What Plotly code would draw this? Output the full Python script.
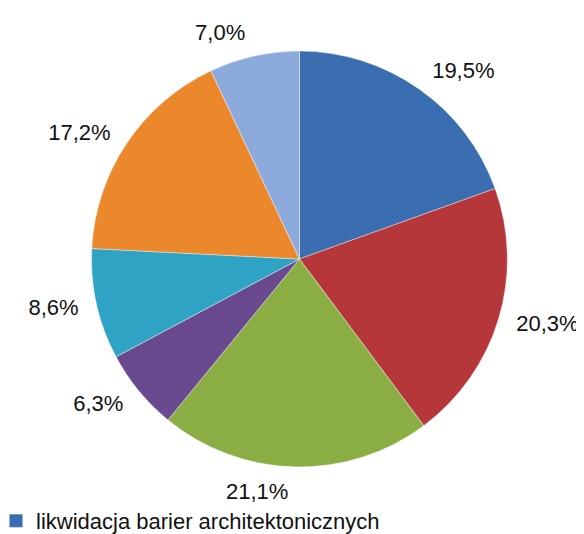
import plotly.graph_objects as go

categories = ["likwidacja barier architektonicznych", "kategoria 2", "kategoria 3",
              "kategoria 4", "kategoria 5", "kategoria 6", "kategoria 7"]
values = [19.5, 20.3, 21.1, 6.3, 8.6, 17.2, 7.0]
colors = ["#3A6EB0", "#B5373A", "#8AAE43", "#6A4A8E", "#2FA3C4", "#EC882C", "#8DAADC"]
legend_label = categories[0]

fig = go.Figure()
# visible pie
fig.add_trace(go.Pie(
    labels=categories, values=values, sort=False, direction="clockwise", rotation=0,
    marker=dict(colors=colors, line=dict(color="rgba(255,255,255,0.4)", width=1)),
    textinfo="none", hoverinfo="skip",
    showlegend=False, domain=dict(x=[0.14583, 0.87153], y=[0.13858, 0.92135]),
))
# transparent, slightly larger pie that carries the outside labels
fig.add_trace(go.Pie(
    labels=categories, values=values, sort=False, direction="clockwise", rotation=0,
    marker=dict(colors=["rgba(0,0,0,0)"] * len(values), line=dict(width=0)),
    texttemplate="%{value:.1f}%", textposition="outside",
    textfont=dict(size=22, color="#111111"), hoverinfo="skip",
    showlegend=False, domain=dict(x=[0.125, 0.89236], y=[0.11610, 0.94382]),
))
fig.add_trace(go.Scatter(
    x=[None], y=[None], mode="markers", name=legend_label,
    marker=dict(symbol="square", size=13, color=colors[0]), showlegend=True,
))
fig.update_layout(
    width=576, height=534, separators=", ",
    margin=dict(l=0, r=0, t=0, b=0),
    paper_bgcolor="white", plot_bgcolor="white",
    font=dict(family="Liberation Sans, sans-serif", size=22, color="#111111"),
    xaxis=dict(visible=False), yaxis=dict(visible=False),
    legend=dict(orientation="h", x=0, y=0, xanchor="left", yanchor="bottom",
                bgcolor="rgba(0,0,0,0)", font=dict(size=22), itemwidth=30,
                indentation=-12),
)
fig.write_html("out.html")
